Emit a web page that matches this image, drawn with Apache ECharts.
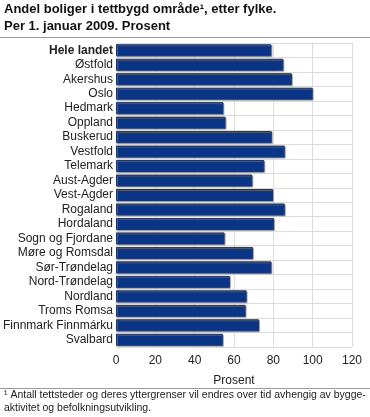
<!DOCTYPE html>
<html><head><meta charset="utf-8">
<script src="https://cdn.jsdelivr.net/npm/echarts@6/dist/echarts.min.js"></script>
<style>html,body{margin:0;padding:0;background:#fff}#c{width:370px;height:417px}</style>
</head><body><div id="c"></div>
<script>
var categories = ['Hele landet','Østfold','Akershus','Oslo','Hedmark','Oppland','Buskerud','Vestfold','Telemark','Aust-Agder','Vest-Agder','Rogaland','Hordaland','Sogn og Fjordane','Møre og Romsdal','Sør-Trøndelag','Nord-Trøndelag','Nordland','Troms Romsa','Finnmark Finnmárku','Svalbard'];
var values = [79.0, 85.1, 89.4, 100.0, 54.6, 55.7, 79.2, 85.8, 75.4, 69.3, 79.8, 85.8, 80.3, 55.2, 69.6, 79.0, 57.9, 66.4, 65.9, 72.7, 54.3];
var xTicks = [0, 20, 40, 60, 80, 100, 120];
var titleLines = ['Andel boliger i tettbygd område¹, etter fylke.', 'Per 1. januar 2009. Prosent'];
var axisTitle = 'Prosent';
var footnoteLines = ['¹ Antall tettsteder og deres yttergrenser vil endres over tid avhengig av bygge-', 'aktivitet og befolkningsutvikling.'];

var chart = echarts.init(document.getElementById('c'), null, {renderer: 'canvas'});
var font = 'Arial, "Liberation Sans", sans-serif';
chart.setOption({
  animation: false,
  textStyle: {fontFamily: font},
  grid: {left: 116, right: 18, top: 43, bottom: 70, containLabel: false},
  xAxis: {
    type: 'value', min: xTicks[0], max: xTicks[xTicks.length - 1], interval: 20,
    axisLine: {show: false}, axisTick: {show: false},
    axisLabel: {color: '#222', fontSize: 12, margin: 8, fontFamily: font},
    splitLine: {show: true, lineStyle: {color: '#dcdcdc', width: 1}},
    name: axisTitle, nameLocation: 'middle', nameGap: 28,
    nameTextStyle: {color: '#222', fontSize: 12, fontFamily: font, verticalAlign: 'top'}
  },
  yAxis: {
    type: 'category', data: categories, inverse: true,
    axisLine: {show: false}, axisTick: {show: false},
    splitLine: {show: true, lineStyle: {color: '#dcdcdc', width: 1}},
    axisLabel: {
      interval: 0,
      color: '#222', fontSize: 12, margin: 3, fontFamily: font,
      formatter: function (v) { return v === categories[0] ? '{b|' + v + '}' : v; },
      rich: {b: {fontWeight: 'bold', fontSize: 12, color: '#222', fontFamily: font}}
    }
  },
  series: [{
    type: 'bar', data: values, barCategoryGap: '17%',
    itemStyle: {color: '#0a3586', borderColor: '#1f3566', borderWidth: 1,
      shadowColor: 'rgba(120,120,120,0.6)', shadowOffsetX: 1, shadowOffsetY: 1, shadowBlur: 0}
  }],
  graphic: [
    {type: 'text', left: 4, top: 3, style: {text: titleLines[0], font: 'bold 13px ' + font, fill: '#111'}},
    {type: 'text', left: 4, top: 20, style: {text: titleLines[1], font: 'bold 13px ' + font, fill: '#111'}},
    {type: 'line', shape: {x1: 0, y1: 37.5, x2: 370, y2: 37.5}, style: {stroke: '#999', lineWidth: 1}},
    {type: 'line', shape: {x1: 0, y1: 388.5, x2: 370, y2: 388.5}, style: {stroke: '#999', lineWidth: 1}},
    {type: 'text', left: 4, top: 390, style: {text: footnoteLines[0], font: '10.5px ' + font, fill: '#222'}},
    {type: 'text', left: 4, top: 403, style: {text: footnoteLines[1], font: '10.5px ' + font, fill: '#222'}}
  ]
});
</script></body></html>
